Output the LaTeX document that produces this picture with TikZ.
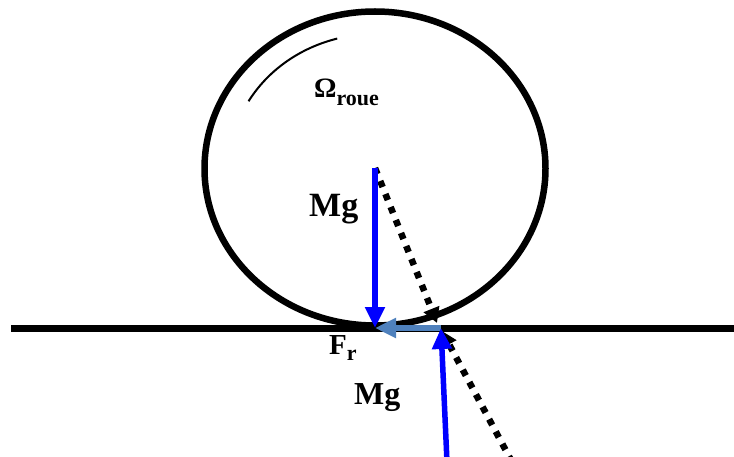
\documentclass[tikz,border=0pt]{standalone}
\usepackage{fontspec}
\setmainfont{Liberation Serif}
\usetikzlibrary{arrows.meta,shapes.geometric}
\definecolor{fblue}{RGB}{0,0,255}
\definecolor{frcol}{RGB}{79,129,189}
\tikzset{
  bigarrow/.style={line width=5.5pt,-{Triangle[length=21pt,width=19pt]}},
  dotline/.style={line width=6.5pt,dash pattern=on 6.5pt off 7.5pt,-{Triangle[length=15pt,width=16pt]}},
  lbl/.style={inner sep=0pt,anchor=base west,font=\bfseries}
}
\begin{document}
\begin{tikzpicture}[x=1pt,y=-1pt]
\useasboundingbox (0,0) rectangle (734,457);
% ground
\coordinate (gl) at (11,328.5);
\coordinate (gr) at (734,328.5);
\draw[line width=6.5pt] (gl) -- (gr);
% wheel
\node[draw,line width=6.5pt,ellipse,minimum width=341pt,minimum height=314pt,inner sep=0pt] (wheel) at (375,168.5) {};
% rotation arc
\draw[line width=2pt] plot[domain=105:150,samples=40,smooth] ({375+146*cos(\x)},{168.5-134.5*sin(\x)});
% points
\coordinate (C) at (375,168);
\coordinate (P) at (375,328);
\coordinate (Q) at (441,328);
\coordinate (Dtip) at (437,323);
\coordinate (Utip) at (442,331);
\coordinate (Bot) at (512,462);
\coordinate (Mgbot) at (447,462);
% dotted lines
\draw[dotline] (C) -- (Dtip);
\draw[dotline] (Bot) -- (Utip);
% Mg on wheel
\draw[bigarrow,fblue] (C) -- (P);
% friction
\draw[bigarrow,frcol] (Q) -- (P);
% reaction Mg
\draw[bigarrow,fblue] (Mgbot) -- (Q);
% labels
\node[lbl,font=\bfseries\fontsize{34}{34}\selectfont] (mg1) at (309,217) {Mg};
\node[lbl,font=\bfseries\fontsize{32}{32}\selectfont] (mg2) at (354,404) {Mg};
\node[lbl,font=\bfseries\fontsize{29}{29}\selectfont] (fr) at (329,354) {F\raisebox{-6pt}{\fontsize{22}{22}\selectfont r}};
\node[lbl,font=\bfseries\fontsize{28}{28}\selectfont] (om) at (314,98) {Ω\raisebox{-8pt}{\fontsize{22}{22}\selectfont roue}};
\end{tikzpicture}
\end{document}
